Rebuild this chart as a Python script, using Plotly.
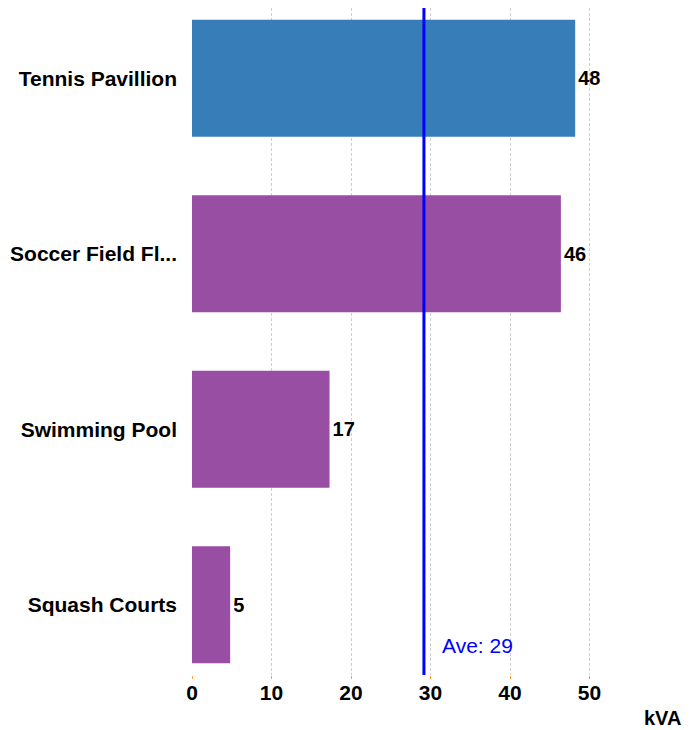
import plotly.graph_objects as go

categories = ["Tennis Pavillion", "Soccer Field Fl...", "Swimming Pool", "Squash Courts"]
values = [48.2, 46.4, 17.3, 4.8]
labels = ["48", "46", "17", "5"]
colors = ["#377eb8", "#984ea3", "#984ea3", "#984ea3"]
x_ticks = [0, 10, 20, 30, 40, 50]

avg = sum(values) / len(values)
FONT = "Arial, Liberation Sans, sans-serif"

fig = go.Figure()
fig.add_trace(go.Bar(
    y=categories, x=values, orientation="h",
    marker=dict(color=colors, line=dict(width=0)),
    width=0.667,
    text=labels, textposition="outside",
    textfont=dict(family=FONT, size=20, color="black", weight="bold"),
    cliponaxis=False,
    hoverinfo="skip",
))

fig.add_shape(type="line", xref="x", yref="paper", x0=avg, x1=avg, y0=0, y1=1,
              line=dict(color="#0000ff", width=3))
fig.add_annotation(x=avg, xref="x", y=3.23, yref="y",
                   text="Ave: %d" % round(avg), showarrow=False,
                   xanchor="left", xshift=16,
                   font=dict(family=FONT, size=21, color="#0000ff"))
fig.add_annotation(x=1, xref="paper", y=0, yref="paper", yshift=-43,
                   text="<b>kVA</b>", showarrow=False, xanchor="right", yanchor="middle",
                   xshift=14,
                   font=dict(family=FONT, size=20, color="black"))

fig.update_layout(
    width=690, height=722,
    margin=dict(l=184, r=29, t=0, b=55, autoexpand=False),
    plot_bgcolor="white", paper_bgcolor="white",
    showlegend=False,
    font=dict(family=FONT, size=20, color="black"),
    xaxis=dict(range=[0, 60], tickvals=x_ticks, ticktext=[f"<b>{t}</b>" for t in x_ticks],
               showgrid=True, gridcolor="#cfcfcf", griddash="3px,2px", gridwidth=1,
               zeroline=False, showline=False, automargin=False,
               ticks="outside", ticklen=3, tickcolor="#f5a142", tickwidth=1,
               ticklabelstandoff=-4,
               tickfont=dict(size=21, color="black")),
    yaxis=dict(autorange=False, range=[3.4, -0.4], type="category",
               tickvals=categories, ticktext=[f"<b>{c}</b>" for c in categories],
               showgrid=False, zeroline=False, showline=False, automargin=False,
               ticklabelstandoff=14,
               tickfont=dict(size=21, color="black")),
)

fig.write_html("out.html")
